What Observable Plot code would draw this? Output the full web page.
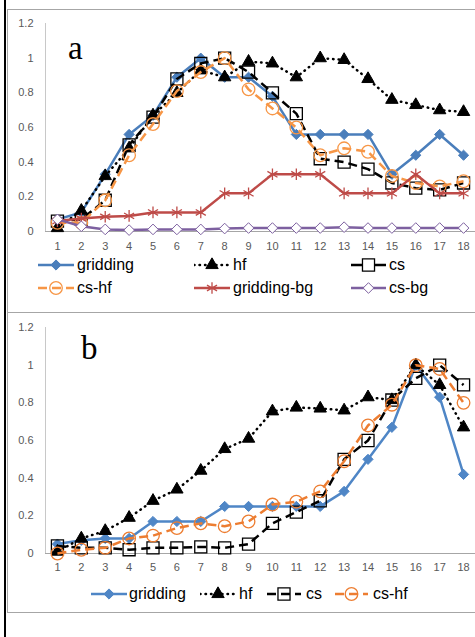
<!DOCTYPE html>
<html><head><meta charset="utf-8">
<script src="https://cdn.jsdelivr.net/npm/d3@7"></script>
<script src="https://cdn.jsdelivr.net/npm/@observablehq/plot@0.6"></script>
<style>
body{margin:0;background:#fff;width:475px;height:637px;overflow:hidden;position:relative;font-family:"Liberation Sans",Arial,sans-serif}
.vline{position:absolute;left:4px;top:0;width:2px;height:637px;background:#000}
.frame{position:absolute;left:7px;width:480px;border:1px solid #a6a6a6;box-sizing:border-box}
.chart{position:absolute;left:0}
.letter{position:absolute;font-family:"Liberation Serif","Times New Roman",serif;font-size:33px;line-height:1;color:#000}
.legtext{position:absolute;font-size:16px;line-height:16px;color:#000;white-space:nowrap}
.sw{position:absolute}
</style>
</head><body>
<div class="vline"></div>
<div class="frame" style="top:9px;height:304px"></div>
<div class="frame" style="top:312px;height:301px"></div>
<script>
// ---- data ----
const xCats = [1,2,3,4,5,6,7,8,9,10,11,12,13,14,15,16,17,18];
const yTicks = [0,0.2,0.4,0.6,0.8,1,1.2];

// panel a
const aGridding   = [0.07,0.11,0.33,0.56,0.67,0.89,1.0,0.89,0.89,0.78,0.56,0.56,0.56,0.56,0.33,0.44,0.56,0.44];
const aHf         = [0.02,0.12,0.32,0.48,0.67,0.80,0.93,0.89,0.98,0.97,0.89,1.0,0.99,0.88,0.76,0.73,0.70,0.69];
const aCs         = [0.06,0.07,0.18,0.50,0.66,0.88,0.97,1.0,0.92,0.80,0.68,0.42,0.40,0.36,0.28,0.25,0.24,0.28];
const aCsHf       = [0.05,0.05,0.18,0.44,0.62,0.81,0.92,1.0,0.82,0.71,0.60,0.44,0.48,0.46,0.32,0.28,0.26,0.29];
const aGriddingBg = [0.06,0.075,0.085,0.09,0.11,0.11,0.11,0.22,0.22,0.33,0.33,0.33,0.22,0.22,0.22,0.33,0.22,0.22];
const aCsBg       = [0.07,0.03,0.012,0.008,0.012,0.012,0.012,0.017,0.02,0.02,0.02,0.02,0.025,0.02,0.02,0.02,0.02,0.02];

// panel b
const bGridding = [0.05,0.07,0.08,0.08,0.17,0.17,0.17,0.25,0.25,0.25,0.25,0.25,0.33,0.50,0.67,1.0,0.83,0.42];
const bHf       = [0.01,0.08,0.12,0.19,0.28,0.34,0.44,0.555,0.61,0.755,0.775,0.77,0.76,0.83,0.815,1.0,0.895,0.67];
const bCs       = [0.04,0.03,0.03,0.02,0.03,0.03,0.035,0.03,0.05,0.16,0.22,0.28,0.50,0.60,0.815,0.93,1.0,0.895];
const bCsHf     = [0.0,0.02,0.03,0.08,0.095,0.135,0.16,0.145,0.17,0.26,0.275,0.33,0.49,0.68,0.79,1.0,0.98,0.80];

// ---- styles ----
const st = {
  gridding:  {color:"#4a7ebb", symbol:"diamond2", r:4.6, fill:"#4a7ebb", mstroke:"#4a7ebb", msw:1},
  hf:        {color:"#000", dash:"0.5 5", cap:"round", symbol:"triangle", r:4.6, fill:"#000", mstroke:"#000", msw:1},
  cs:        {color:"#000", dash:"9 5", symbol:"square", r:6.8, fill:"none", mstroke:"#000", msw:1.3},
  csHf:      {color:"#f79646", dash:"9 5", symbol:"circle", r:6.3, fill:"none", mstroke:"#f79646", msw:1.3},
  gridBg:    {color:"#be4b48", symbol:"asterisk", r:5.5, fill:"none", mstroke:"#be4b48", msw:1.3},
  csBg:      {color:"#7d60a0", symbol:"diamond2", r:4.8, fill:"#fff", mstroke:"#7d60a0", msw:1}
};
const stB = {
  gridding: {...st.gridding, color:"#4f86c6", fill:"#4f86c6", mstroke:"#4f86c6"},
  hf: st.hf,
  cs: st.cs,
  csHf: {...st.csHf, color:"#ed7d31", mstroke:"#ed7d31"}
};

function makePanel(seriesList, height, plotH, xPad){
  const marks = [
    Plot.ruleX([0.5], {y1:0, y2:1.2, stroke:"#c8c8c8"}),
    Plot.ruleY([0], {stroke:"#a6a6a6"}),
    Plot.axisY({ticks:yTicks, tickSize:0, tickPadding:12, label:null, tickFormat:d=>String(+d.toFixed(1))}),
    Plot.axisX({ticks:xCats, tickSize:0, tickPadding:xPad, label:null, tickFormat:d=>String(d)})
  ];
  for (const [vals, s] of seriesList){
    const data = xCats.map((c,i)=>({x:c, y:vals[i]}));
    marks.push(Plot.line(data, {x:"x", y:"y", stroke:s.color, strokeWidth:2.5, strokeDasharray:s.dash, strokeLinecap:s.cap||"butt"}));
    marks.push(Plot.dot(data, {x:"x", y:"y", symbol:s.symbol, r:s.r, fill:s.fill, stroke:s.mstroke, strokeWidth:s.msw}));
  }
  return Plot.plot({
    width:475, height, marginTop:23, marginBottom:height-23-plotH, marginLeft:45, marginRight:0,
    x:{type:"linear", domain:[0.5,18.5]},
    y:{domain:[0,1.2]},
    style:{fontSize:"11px", fontFamily:"'Liberation Sans',Arial,sans-serif", color:"#595959", background:"transparent", overflow:"visible"},
    marks
  });
}

const pa = makePanel([[aGridding,st.gridding],[aHf,st.hf],[aCs,st.cs],[aCsHf,st.csHf],[aGriddingBg,st.gridBg],[aCsBg,st.csBg]], 257, 208, 11);
pa.classList.add("chart"); pa.style.top = "0px";
document.body.appendChild(pa);

const pb = makePanel([[bGridding,stB.gridding],[bHf,stB.hf],[bCs,stB.cs],[bCsHf,stB.csHf]], 275, 226, 10);
pb.classList.add("chart"); pb.style.top = "304px";
document.body.appendChild(pb);

// letters
function letter(t, x, y){ const d=document.createElement("div"); d.className="letter"; d.textContent=t; d.style.left=x+"px"; d.style.top=y+"px"; document.body.appendChild(d); }
letter("a", 68, 32);
letter("b", 81, 332);

// legends
const symMap = {diamond2:d3.symbolDiamond2, triangle:d3.symbolTriangle, square:d3.symbolSquare, circle:d3.symbolCircle, asterisk:d3.symbolAsterisk};
function legendItem(s, x1, x2, cy, label, tx, fillOverride){
  const w = x2-x1;
  const svg = d3.select(document.body).append("svg").attr("class","sw").attr("width",w).attr("height",18)
    .style("left",x1+"px").style("top",(cy-9)+"px");
  svg.append("line").attr("x1",0).attr("x2",w).attr("y1",9).attr("y2",9)
    .attr("stroke",s.color).attr("stroke-width",2.5).attr("stroke-dasharray",s.dash||null).attr("stroke-linecap",s.cap||"butt");
  svg.append("path").attr("d", d3.symbol(symMap[s.symbol], Math.PI*s.r*s.r)()).attr("transform",`translate(${w/2},9)`)
    .attr("fill",fillOverride||s.fill).attr("stroke",s.mstroke).attr("stroke-width",s.msw);
  const t=document.createElement("div"); t.className="legtext"; t.textContent=label;
  t.style.left=tx+"px"; t.style.top=(cy-8)+"px"; document.body.appendChild(t);
}
legendItem(st.gridding, 38, 74, 265, "gridding", 77);
legendItem(st.hf, 194, 230, 265, "hf", 233);
legendItem({...st.cs, dash:null}, 351, 386, 265, "cs", 389, "#fff");
legendItem(st.csHf, 38, 74, 288, "cs-hf", 77);
legendItem(st.gridBg, 194, 230, 288, "gridding-bg", 233);
legendItem(st.csBg, 351, 386, 288, "cs-bg", 389);

legendItem(stB.gridding, 91, 127, 594, "gridding", 129);
legendItem(stB.hf, 200, 236, 594, "hf", 239);
legendItem(stB.cs, 267, 301, 594, "cs", 306);
legendItem(stB.csHf, 335, 368, 594, "cs-hf", 373);
</script>
</body></html>
